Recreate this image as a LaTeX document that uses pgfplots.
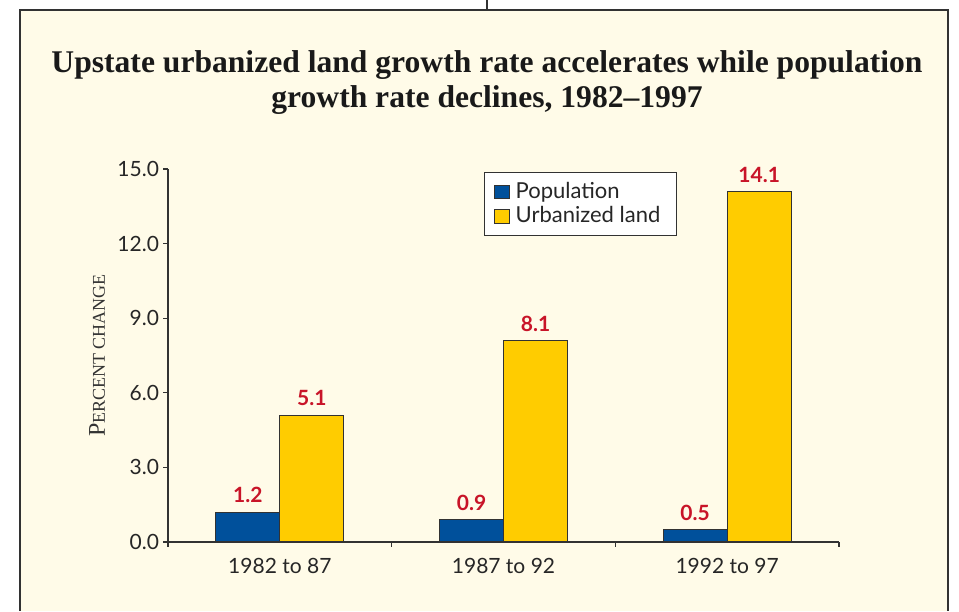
\documentclass[border=0pt]{standalone}
\usepackage{pgfplots}
\pgfplotsset{compat=1.18}
\usepackage{fontspec}
\setmainfont{Lato}
\newfontfamily\titlefont{Liberation Serif}
\definecolor{cream}{RGB}{255,251,232}
\definecolor{popblue}{RGB}{0,80,155}
\definecolor{urbyellow}{RGB}{255,204,0}
\definecolor{labred}{RGB}{200,20,40}
\definecolor{framegray}{RGB}{50,50,50}

\begin{document}
\begin{tikzpicture}[x=0.5pt,y=0.5pt]
% canvas and frame, in pixels of the 959x611 reference
\useasboundingbox (0,0) rectangle (959,611);
\fill[white] (0,0) rectangle (959,611);
\fill[cream] (20,0) rectangle (948,601);
\draw[framegray, line width=0.75pt] (20,0) -- (20,601) -- (948,601) -- (948,0);
\draw[framegray, line width=0.6pt] (487,601) -- (487,611);
\node[font=\titlefont\bfseries\fontsize{15.8}{17.5}\selectfont, align=center, text=black!90]
  at (487,528) {Upstate urbanized land growth rate accelerates while population\\growth rate declines, 1982–1997};

\begin{axis}[
    at={(84pt,34.5pt)}, anchor=south west,
    scale only axis, width=335.5pt, height=186.5pt,
    ybar=0pt, bar width=32pt,
    xmin=-0.5, xmax=2.5, ymin=0, ymax=15,
    axis x line*=bottom, axis y line*=left,
    axis line style={framegray, line width=0.6pt},
    xtick={0,1,2},
    xticklabels={1982 to 87, 1987 to 92, 1992 to 97},
    major x tick style={draw=none},
    minor xtick={-0.5,0.5,1.5,2.5},
    ytick={0,3,6,9,12,15},
    yticklabel style={/pgf/number format/fixed, /pgf/number format/fixed zerofill, /pgf/number format/precision=1, xshift=1.5pt},
    /pgf/number format/assume math mode=true,
    major tick length=2.5pt, minor tick length=2.5pt,
    tick align=outside,
    tick style={framegray, line width=0.6pt},
    ticklabel style={font=\fontsize{10.5}{12}\selectfont, text=black!85},
    xticklabel style={yshift=-2pt},
    ylabel={{\titlefont\fontsize{12}{14}\selectfont P\fontsize{9}{11}\selectfont ERCENT CHANGE}},
    every axis y label/.style={at={(axis description cs:-0.1058,0.5)}, rotate=90, anchor=center, text=black!80},
    nodes near coords,
    nodes near coords style={font=\bfseries\fontsize{10.5}{12}\selectfont, text=labred, yshift=1pt},
    legend style={at={(0.471,0.992)}, anchor=north west, draw=framegray, fill=white,
      font=\fontsize{11}{13}\selectfont, text=black!85, inner xsep=5pt, inner ysep=3pt, row sep=-1.5pt,
      nodes={inner xsep=3pt}},
    legend cell align=left,
    legend image code/.code={\draw[#1, draw=framegray] (0.08cm,-0.12cm) rectangle (0.33cm,0.12cm);},
]
\addplot[fill=popblue, draw=framegray, line width=0.5pt] coordinates {(0,1.2) (1,0.9) (2,0.5)};
\addlegendentry{Population}
\addplot[fill=urbyellow, draw=framegray, line width=0.5pt] coordinates {(0,5.1) (1,8.1) (2,14.1)};
\addlegendentry{Urbanized land}
\end{axis}
\end{tikzpicture}
\end{document}
